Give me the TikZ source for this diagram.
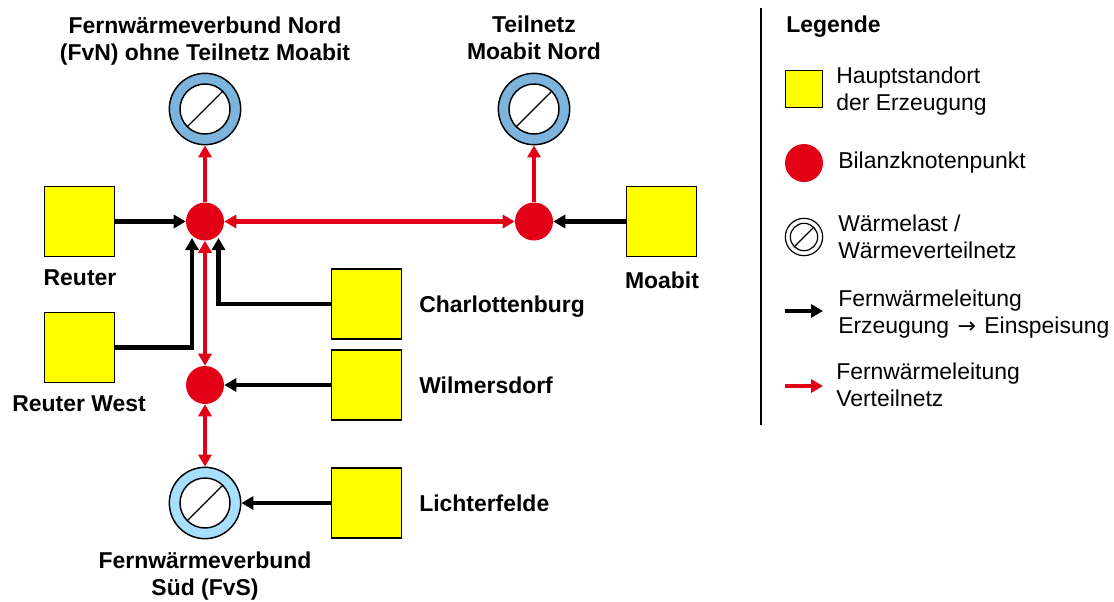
\documentclass[tikz,border=0pt]{standalone}
\usepackage{fontspec}
\setmainfont{Liberation Sans}
\newfontfamily\arrowfont{DejaVu Sans}
\usetikzlibrary{arrows.meta}
\definecolor{netred}{HTML}{E30016}
\definecolor{ringnord}{HTML}{7DB4DD}
\definecolor{ringsued}{HTML}{A6DFFF}
\definecolor{siteyellow}{RGB}{255,255,0}
\begin{document}
\begin{tikzpicture}[x=0.75pt,y=-0.75pt,
  site/.style={draw=black,line width=1.2pt,fill=siteyellow,minimum width=52.5pt,minimum height=52.5pt,inner sep=0pt},
  hub/.style={circle,fill=netred,minimum size=28.5pt,inner sep=0pt},
  ringouter/.style={circle,draw=black,line width=1.1pt,minimum size=53.5pt,inner sep=0pt},
  ringinner/.style={circle,draw=black,line width=1.1pt,fill=white,minimum size=37.5pt,inner sep=0pt,
    path picture={\draw[line width=1pt] (path picture bounding box.south west)--(path picture bounding box.north east);}},
  feed/.style={line width=3.2pt,draw=black,-{Triangle[width=9.8pt,length=9pt]}},
  grid/.style={line width=3.2pt,draw=netred,-{Triangle[width=9.8pt,length=9pt]}},
  gridboth/.style={line width=3.2pt,draw=netred,{Triangle[width=9.8pt,length=9pt]}-{Triangle[width=9.8pt,length=9pt]}},
  bold/.style={font=\fontsize{17.2}{20.25}\selectfont\bfseries,align=center,inner sep=0pt},
  plain/.style={font=\fontsize{17.2}{20.25}\selectfont,align=left,inner sep=0pt,anchor=west}]
\useasboundingbox (0,0) rectangle (1114,601);
% hubs
\node[hub] (h1) at (205,221.5) {};
\node[hub] (h2) at (205,385) {};
\node[hub] (h3) at (534,221.5) {};
% loads
\node[ringouter,fill=ringnord] (fvn) at (205,109) {};
\node[ringinner] (fvni) at (205,109) {};
\node[ringouter,fill=ringnord] (tmn) at (534,109) {};
\node[ringinner] (tmni) at (534,109) {};
\node[ringouter,fill=ringsued] (fvs) at (205,503) {};
\node[ringinner] (fvsi) at (205,503) {};
% sites
\node[site] (reuter) at (79.5,221.5) {};
\node[site] (rwest) at (79.5,347.5) {};
\node[site] (charl) at (366.5,304) {};
\node[site] (wilm) at (366.5,385) {};
\node[site] (licht) at (366.5,503) {};
\node[site] (moabit) at (661.5,221.5) {};
% connector ends
\coordinate (e1) at (192,238);
\coordinate (e2) at (218.5,238);
% black connectors
\draw[feed] (reuter) -- (h1);
\draw[feed] (rwest.east) -| (e1);
\draw[feed] (charl.west) -| (e2);
\draw[feed] (wilm) -- (h2);
\draw[feed] (licht) -- (fvs);
\draw[feed] (moabit) -- (h3);
% red connectors
\draw[grid] (h1) -- (fvn);
\draw[grid] (h3) -- (tmn);
\draw[gridboth] (h1) -- (h3);
\draw[gridboth] (h1) -- (h2);
\draw[gridboth] (h2) -- (fvs);
% labels
\node[bold] (lfvn) at (205,41) {Fernwärmeverbund Nord\\(FvN) ohne Teilnetz Moabit};
\node[bold] (ltmn) at (534,37.5) {Teilnetz\\Moabit Nord};
\node[bold] (lreuter) at (80,278) {Reuter};
\node[bold] (lrwest) at (79,404) {Reuter West};
\node[bold,anchor=west] (lcharl) at (419,306.5) {Charlottenburg};
\node[bold,anchor=west] (lwilm) at (419,385) {Wilmersdorf};
\node[bold,anchor=west] (llicht) at (419,503) {Lichterfelde};
\node[bold] (lmoabit) at (662,280) {Moabit};
\node[bold] (lfvs) at (205,576.5) {Fernwärmeverbund\\Süd (FvS)};
% legend
\coordinate (v1) at (761,8);
\coordinate (v2) at (761,425);
\draw[line width=1.1pt] (v1) -- (v2);
\node[bold,anchor=west] (lleg) at (786,27) {Legende};
\node[draw=black,line width=1.2pt,fill=siteyellow,minimum size=27.5pt,inner sep=0pt] (ks) at (804,89) {};
\node[plain] (ts) at (836,91.5) {Hauptstandort\\der Erzeugung};
\node[hub] (kh) at (804,163) {};
\node[plain] (th) at (838,162.5) {Bilanzknotenpunkt};
\node[circle,draw=black,line width=0.9pt,minimum size=28pt,inner sep=0pt] (kl) at (804,237) {};
\node[ringinner,line width=0.9pt,minimum size=20.5pt] (kli) at (804,237) {};
\node[plain] (tl) at (838,237) {Wärmelast /\\Wärmeverteilnetz};
\coordinate (b1) at (785,311);
\coordinate (b2) at (823,311);
\draw[feed] (b1) -- (b2);
\node[plain] (tb) at (838,314) {Fernwärmeleitung\\Erzeugung\hspace{1.5pt} {\arrowfont\fontsize{16.5}{20.25}\selectfont →}\hspace{1.5pt} Einspeisung};
\coordinate (r1) at (785,386);
\coordinate (r2) at (823,386);
\draw[grid] (r1) -- (r2);
\node[plain] (tr) at (836,385) {Fernwärmeleitung\\Verteilnetz};
\end{tikzpicture}
\end{document}
